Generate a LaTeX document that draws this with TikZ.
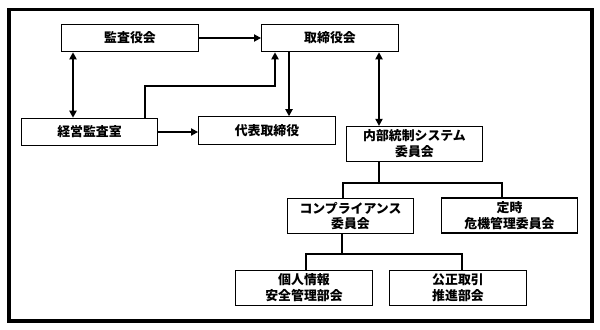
\documentclass[tikz,border=0pt]{standalone}
\usepackage{fontspec}
\setmainfont{Noto Sans CJK JP}
\usetikzlibrary{arrows.meta,calc}

\begin{document}
\begin{tikzpicture}[x=0.03cm,y=-0.03cm,>={Triangle[length=6pt,width=6pt]},
    box/.style={draw,line width=1pt,fill=white,minimum width=4.1cm,minimum height=0.82cm,
      inner sep=1pt,align=center,font=\fontsize{11}{13.5}\selectfont\bfseries},
    tallbox/.style={box,minimum height=1.05cm},
    link/.style={line width=1.7pt}]
      \useasboundingbox (0,0) rectangle (600,329);
      \draw[line width=2.6pt] (9,9.5) rectangle (592,321);
      % upper part
      \node[box] (kansa) at (130,38) {監査役会};
      \node[box] (tori) at (330,38) {取締役会};
      \node[box] (keiei) at (89.5,132) {経営監査室};
      \node[box] (daihyo) at (267,130.5) {代表取締役};
      \node[tallbox] (naibu) at (414.5,144) {内部統制システム\\委員会};
      % committees
      \node[tallbox,minimum width=3.78cm] (comp) at (350.5,216) {コンプライアンス\\委員会};
      \node[tallbox] (teiji) at (509.5,215.5) {定時\\危機管理委員会};
      \node[tallbox] (kojin) at (304,288) {個人情報\\安全管理部会};
      \node[tallbox] (kosei) at (458,288) {公正取引\\推進部会};
      \coordinate (ka) at ($(kansa.south)+(-57,0)$);
      \coordinate (kup) at ($(keiei.north)+(55.5,0)$);
      \coordinate (tin) at ($(tori.south)+(-55,0)$);
      \coordinate (bend) at (275,86);
      \coordinate (td) at ($(tori.south)+(-41,0)$);
      \coordinate (tn) at ($(tori.south)+(49,0)$);
      \draw[link,->] (kansa.east) -- (kansa.east -| tori.west);
      \draw[link,<->] (ka) -- (ka |- keiei.north);
      \draw[link,->] (keiei.east) -- (keiei.east -| daihyo.west);
      \draw[link,->] (kup) |- (bend) -- (tin);
      \draw[link,->] (td) -- (td |- daihyo.north);
      \draw[link,<->] (tn) -- (tn |- naibu.north);
      % tree below
      \coordinate (nb) at ($(naibu.south)+(-35.5,0)$);
      \coordinate (nj) at (379,183);
      \coordinate (cn) at ($(comp.north)+(-7.5,0)$);
      \coordinate (tj) at ($(teiji.north)+(-7.5,0)$);
      \draw[link] (nb) -- (nj);
      \draw[link] (cn) |- (nj) -| (tj);
      \coordinate (cb) at ($(comp.south)+(-8.5,0)$);
      \coordinate (cj) at (342,254);
      \coordinate (kj) at ($(kojin.north)+(2,0)$);
      \coordinate (sj) at ($(kosei.north)+(4,0)$);
      \draw[link] (cb) -- (cj);
      \draw[link] (kj) |- (cj) -| (sj);
    \end{tikzpicture}
\end{document}
